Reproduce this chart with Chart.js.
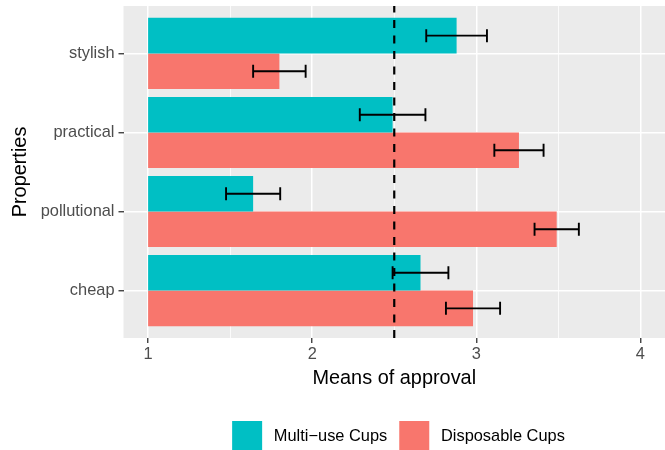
<!DOCTYPE html>
<html>
<head>
<meta charset="utf-8">
<script src="https://cdn.jsdelivr.net/npm/chart.js@4"></script>
<style>
  html, body { margin: 0; padding: 0; background: #ffffff; }
  canvas { display: block; }
</style>
</head>
<body>
<canvas id="chart" width="665" height="450"></canvas>
<script>
// Categories, listed top to bottom
const categories = ['stylish', 'practical', 'pollutional', 'cheap'];

// Mean approval and standard error per category
const multiUse = [2.88, 2.49, 1.64, 2.66];
const multiUseSE = [0.185, 0.20, 0.165, 0.17];
const disposable = [1.80, 3.26, 3.49, 2.98];
const disposableSE = [0.16, 0.15, 0.135, 0.165];

const seriesNames = ['Multi\u2212use Cups', 'Disposable Cups'];
const seriesColors = ['#00BFC4', '#F8766D'];

// Axis ticks
const xMajorTicks = [1, 2, 3, 4];
const xMinorTicks = [1.5, 2.5, 3.5];
const xRange = [0.85, 4.15];
const barBase = 1;
const referenceLine = 2.5;

const FONT = "'Liberation Sans', Arial, Helvetica, sans-serif";
const seriesMeans = [multiUse, disposable];
const seriesErrors = [multiUseSE, disposableSE];
const nCat = categories.length;

// grey panel behind the plot area
const panelBackground = {
  id: 'panelBackground',
  beforeDraw(chart) {
    const { ctx, chartArea: a } = chart;
    ctx.save();
    ctx.fillStyle = '#EBEBEB';
    ctx.fillRect(a.left, a.top, a.right - a.left, a.bottom - a.top);
    ctx.restore();
  }
};

// mean +/- SE whiskers on each bar, then the dashed reference line
const errorBarsAndLine = {
  id: 'errorBarsAndLine',
  afterDatasetsDraw(chart) {
    const { ctx, chartArea: a, scales: { x } } = chart;
    ctx.save();
    ctx.strokeStyle = '#000000';
    ctx.lineWidth = 1.9;
    const capHalf = 6.5;
    chart.data.datasets.forEach((ds, d) => {
      const meta = chart.getDatasetMeta(d);
      meta.data.forEach((bar, i) => {
        const m = seriesMeans[d][i];
        const e = seriesErrors[d][i];
        const x0 = x.getPixelForValue(m - e);
        const x1 = x.getPixelForValue(m + e);
        const y = bar.y;
        ctx.beginPath();
        ctx.moveTo(x0, y); ctx.lineTo(x1, y);
        ctx.moveTo(x0, y - capHalf); ctx.lineTo(x0, y + capHalf);
        ctx.moveTo(x1, y - capHalf); ctx.lineTo(x1, y + capHalf);
        ctx.stroke();
      });
    });
    const xr = x.getPixelForValue(referenceLine);
    ctx.lineWidth = 2.2;
    ctx.setLineDash([8, 7.5]);
    ctx.beginPath();
    ctx.moveTo(xr, a.bottom);
    ctx.lineTo(xr, a.top);
    ctx.stroke();
    ctx.restore();
  }
};

// legend row below the axis title
const bottomLegend = {
  id: 'bottomLegend',
  afterDraw(chart) {
    const ctx = chart.ctx;
    ctx.save();
    ctx.font = '16.4px ' + FONT;
    const keyW = 30, keyH = 29, gap = 11.7, spacing = 12, top = 421, centerX = 398.5;
    const items = chart.data.datasets.map(ds => ({
      text: ds.label, color: ds.backgroundColor, w: ctx.measureText(ds.label).width
    }));
    const total = items.reduce((s, it) => s + keyW + gap + it.w, 0) + spacing * (items.length - 1);
    let x = centerX - total / 2;
    ctx.textBaseline = 'middle';
    ctx.textAlign = 'left';
    items.forEach(it => {
      ctx.fillStyle = it.color;
      ctx.fillRect(x, top, keyW, keyH);
      ctx.fillStyle = '#000000';
      ctx.fillText(it.text, x + keyW + gap, top + keyH / 2 + 0.5);
      x += keyW + gap + it.w + spacing;
    });
    ctx.restore();
  }
};

const isMajor = v => xMajorTicks.includes(v);

new Chart(document.getElementById('chart'), {
  type: 'bar',
  data: {
    datasets: seriesMeans.map((vals, d) => ({
      label: seriesNames[d],
      data: vals.map((v, i) => ({ x: [barBase, v], y: nCat - 1 - i })),
      backgroundColor: seriesColors[d],
      borderWidth: 0,
      categoryPercentage: 0.9,
      barPercentage: 1
    }))
  },
  options: {
    indexAxis: 'y',
    responsive: false,
    animation: false,
    devicePixelRatio: 1,
    layout: { padding: { top: 6, right: 0, bottom: 50, left: 0 } },
    plugins: { legend: { display: false }, tooltip: { enabled: false } },
    scales: {
      x: {
        type: 'linear',
        min: xRange[0],
        max: xRange[1],
        offset: false,
        afterBuildTicks: s => {
          s.ticks = [...xMajorTicks, ...xMinorTicks].sort((a, b) => a - b).map(v => ({ value: v }));
        },
        afterFit: s => { s.height = 62; s.paddingLeft = 0; s.paddingRight = 0; },
        ticks: {
          callback: v => (isMajor(v) ? String(v) : ''),
          color: '#4D4D4D',
          font: { family: FONT, size: 16.4 },
          padding: 1.2,
          maxRotation: 0,
          autoSkip: false
        },
        grid: {
          offset: false,
          color: '#FFFFFF',
          lineWidth: c => (c.tick && isMajor(c.tick.value) ? 1.5 : 0.8),
          tickColor: c => (c.tick && isMajor(c.tick.value) ? '#333333' : 'rgba(0,0,0,0)'),
          tickLength: 5,
          tickWidth: 1.3
        },
        border: { display: false },
        title: {
          display: true,
          text: 'Means of approval',
          color: '#000000',
          font: { family: FONT, size: 19.9 },
          padding: { top: 0, bottom: 9.8 }
        }
      },
      y: {
        type: 'linear',
        min: -0.6,
        max: nCat - 0.4,
        offset: false,
        afterBuildTicks: s => {
          s.ticks = categories.map((_, i) => ({ value: i }));
        },
        afterFit: s => { s.width = 123.5; s.paddingTop = 0; s.paddingBottom = 0; },
        ticks: {
          callback: v => categories[nCat - 1 - v],
          color: '#4D4D4D',
          font: { family: FONT, size: 16.4 },
          padding: 4,
          autoSkip: false
        },
        grid: {
          offset: false,
          color: '#FFFFFF',
          lineWidth: 1.5,
          tickColor: '#333333',
          tickLength: 5,
          tickWidth: 1.3
        },
        border: { display: false },
        title: {
          display: true,
          text: 'Properties',
          color: '#000000',
          font: { family: FONT, size: 19.9 },
          padding: { top: 8.3, bottom: 0 }
        }
      }
    }
  },
  plugins: [panelBackground, errorBarsAndLine, bottomLegend]
});
</script>
</body>
</html>
